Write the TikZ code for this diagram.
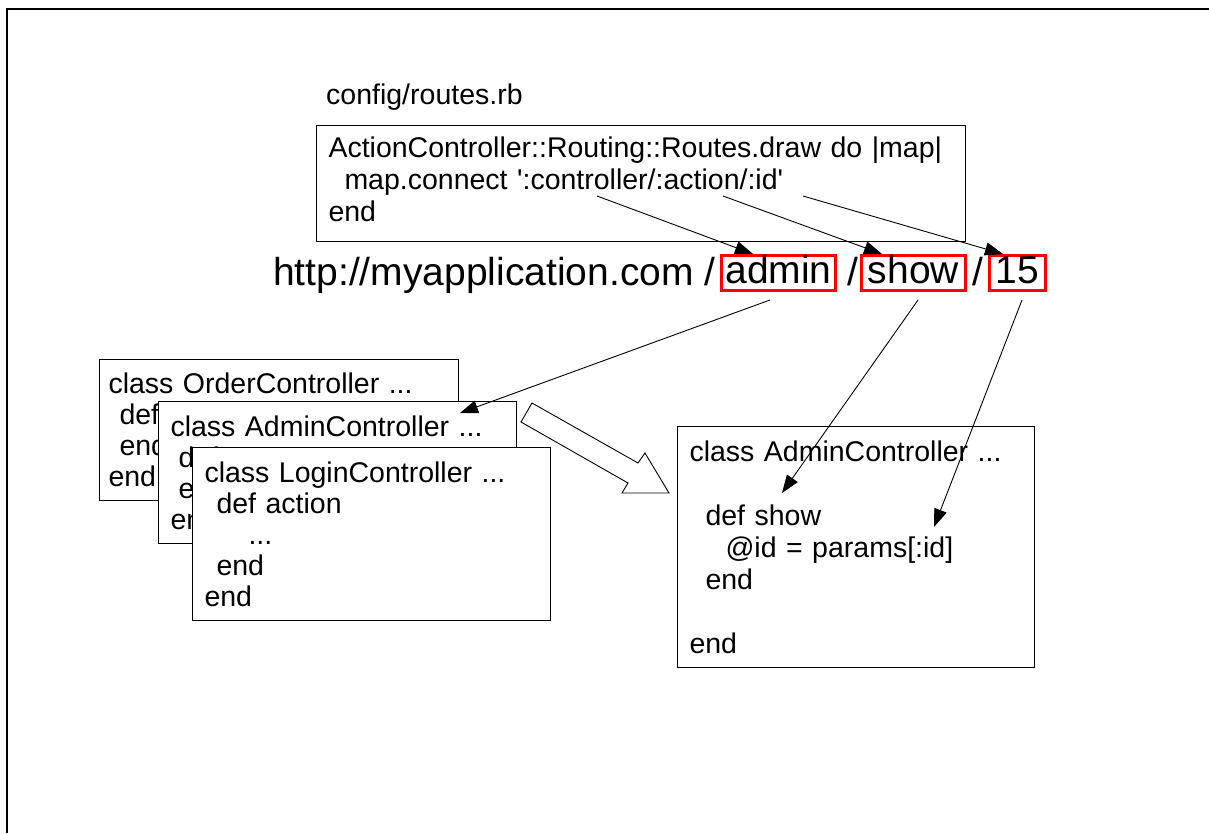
\documentclass[tikz,border=0pt]{standalone}
\usepackage{fontspec}
\setmainfont{Liberation Sans}[Ligatures=TeXOff]
\usetikzlibrary{arrows.meta,calc}
\begin{document}
\begin{tikzpicture}[x=1pt,y=-1pt,
  codebox/.style={draw=black, line width=1pt, fill=white, anchor=north west,
    align=left, inner xsep=12pt, inner ysep=0pt},
  codefont/.style={font={\fontsize{28.5}{31}\selectfont}},
  widecode/.style={font={\fontsize{28.5}{32}\selectfont}},
  urlfont/.style={font={\fontsize{39}{42}\selectfont}},
  redbox/.style={draw=red, line width=3pt, urlfont, inner sep=0pt,
    text height=28pt, text depth=7pt, minimum height=35pt},
  arr/.style={draw=black, line width=0.9pt, -{Triangle[length=18pt,width=13pt]}},
  hollow/.style={draw=black, line width=0.9pt, fill=white}]
\useasboundingbox (0,0) rectangle (1209,833);

% page frame
\draw[line width=2.5pt] (1209,9) -- (7,9) -- (7,833);

% routes file
\node[anchor=base west, inner sep=0pt, widecode] (cfg) at (326,104) {config/routes.rb};
\node[codebox, widecode, text width=625pt, minimum height=116pt] (routes) at (316,125)
  {ActionController::Routing::Routes.draw do |map|\\
   \hspace*{16pt}map.connect ':controller/:action/:id'\\
   end\rule[-9pt]{0pt}{1pt}};

% request URL
\node[anchor=base west, inner sep=0pt, urlfont] (url) at (273,285) {http://myapplication.com /};
\node[redbox, minimum width=114pt] (wadmin) at (778.5,273) {admin};
\node[anchor=base, inner sep=0pt, urlfont] (sl1) at (852.5,285) {/};
\node[redbox, minimum width=104pt] (wshow) at (913.5,273) {show};
\node[anchor=base, inner sep=0pt, urlfont] (sl2) at (977.5,285) {/};
\node[redbox, minimum width=56pt] (wid) at (1017.5,273) {15};

% stacked controller classes
\node[codebox, codefont, inner xsep=9pt, text width=341pt, minimum height=141pt] (order) at (99,359)
  {class OrderController ...\\
   \hspace*{11pt}def\\
   \hspace*{11pt}end\\
   end};
\node[codebox, codefont, text width=334pt, minimum height=142pt] (admin) at (158,401)
  {class AdminController ...\\
   \hspace*{8pt}def\\
   \hspace*{8pt}end\\
   end};
\node[codebox, codefont, text width=334pt, minimum height=173pt] (login) at (192,447)
  {class LoginController ...\\
   \hspace*{12pt}def action\\
   \hspace*{44pt}...\\
   \hspace*{12pt}end\\
   end};

% selected controller
\node[codebox, widecode, text width=333pt, minimum height=241pt] (chosen) at (677,426)
  {class AdminController ...\\
   \mbox{}\\
   \hspace*{16pt}def show\\
   \hspace*{36pt}@id = params[:id]\\
   \hspace*{16pt}end\\
   \mbox{}\\
   end};

% hollow block arrow
\path[hollow] (532,403) -- (638,463) -- (645,453) -- (669,493) -- (622,493)
  -- (628,483) -- (521,422) -- cycle;

% route pattern parts to URL parts
\coordinate (pctl) at (597,196);
\coordinate (pact) at (723,196);
\coordinate (pid)  at (803,196);
\coordinate (tadmin) at ($(wadmin.north west)+(33,0)$);
\coordinate (tshow)  at ($(wshow.north west)+(22,0)$);
\coordinate (tid)    at ($(wid.north west)+(15,0)$);
\draw[arr] (pctl) -- (tadmin);
\draw[arr] (pact) -- (tshow);
\draw[arr] (pid) -- (tid);

% URL parts to code
\coordinate (fadmin) at (770,300);
\coordinate (fshow)  at (918,300);
\coordinate (fid)    at (1022,300);
\coordinate (cadmin) at (460,413);
\coordinate (cshow)  at (782,493);
\coordinate (cid)    at (934,527);
\draw[arr] (fadmin) -- (cadmin);
\draw[arr] (fshow) -- (cshow);
\draw[arr] (fid) -- (cid);
\end{tikzpicture}
\end{document}
